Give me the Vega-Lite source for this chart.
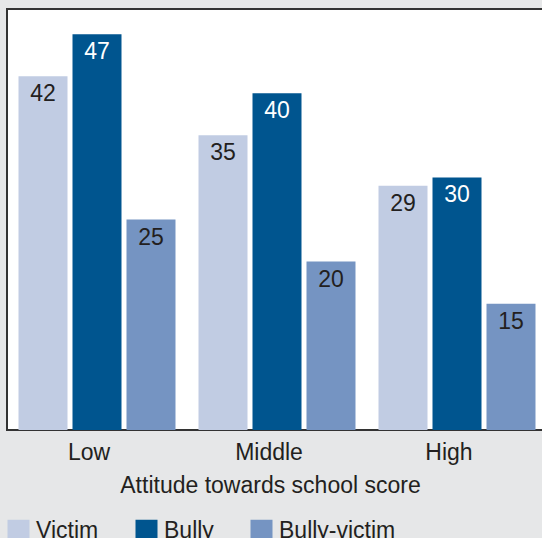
{
"$schema": "https://vega.github.io/schema/vega-lite/v6.json",
"width": 540,
"height": 421,
"padding": {"left": 7, "top": 9, "right": 0, "bottom": 108},
"autosize": {"type": "none"},
"background": "#e6e7e8",
"config": {
  "view": {"fill": "white", "stroke": "#333333", "strokeWidth": 2},
  "font": "Liberation Sans"
},
"data": {"values": [
  {"group": "Low", "type": "Victim", "value": 42},
  {"group": "Low", "type": "Bully", "value": 47},
  {"group": "Low", "type": "Bully-victim", "value": 25},
  {"group": "Middle", "type": "Victim", "value": 35},
  {"group": "Middle", "type": "Bully", "value": 40},
  {"group": "Middle", "type": "Bully-victim", "value": 20},
  {"group": "High", "type": "Victim", "value": 29},
  {"group": "High", "type": "Bully", "value": 30},
  {"group": "High", "type": "Bully-victim", "value": 15}
]},
"encoding": {
  "x": {
    "field": "group", "type": "nominal", "sort": ["Low", "Middle", "High"],
    "scale": {"paddingInner": 0, "paddingOuter": 0},
    "axis": {
      "title": "Attitude towards school score",
      "labelAngle": 0, "domain": false, "ticks": false, "grid": false,
      "labelFontSize": 23, "labelColor": "#231f20", "labelPadding": 11, "labelOffset": -8,
      "titleFontSize": 23, "titleFontWeight": "normal", "titleColor": "#231f20",
      "titlePadding": 10, "titleX": 263
    }
  },
  "xOffset": {
    "field": "type", "type": "nominal", "sort": ["Victim", "Bully", "Bully-victim"],
    "scale": {"paddingInner": 0.0926, "paddingOuter": 0.213}
  },
  "y": {"field": "value", "type": "quantitative", "scale": {"domain": [0, 50], "nice": false}, "axis": null}
},
"layer": [
  {
    "mark": {"type": "bar"},
    "encoding": {
      "color": {
        "field": "type", "type": "nominal", "sort": ["Victim", "Bully", "Bully-victim"],
        "scale": {"domain": ["Victim", "Bully", "Bully-victim"], "range": ["#c1cce3", "#00558f", "#7594c2"]},
        "legend": {
          "title": null, "orient": "none", "legendX": 0, "legendY": 510,
          "direction": "horizontal", "symbolType": "square", "symbolSize": 484,
          "symbolStrokeWidth": 0, "labelFontSize": 23, "labelColor": "#231f20",
          "labelOffset": 6, "columnPadding": 36, "padding": 0
        }
      }
    }
  },
  {
    "mark": {"type": "text", "baseline": "alphabetic", "dy": 25, "fontSize": 23},
    "encoding": {
      "text": {"field": "value", "type": "quantitative"},
      "color": {"condition": {"test": "datum.type === 'Bully'", "value": "white"}, "value": "#231f20"}
    }
  }
]
}
